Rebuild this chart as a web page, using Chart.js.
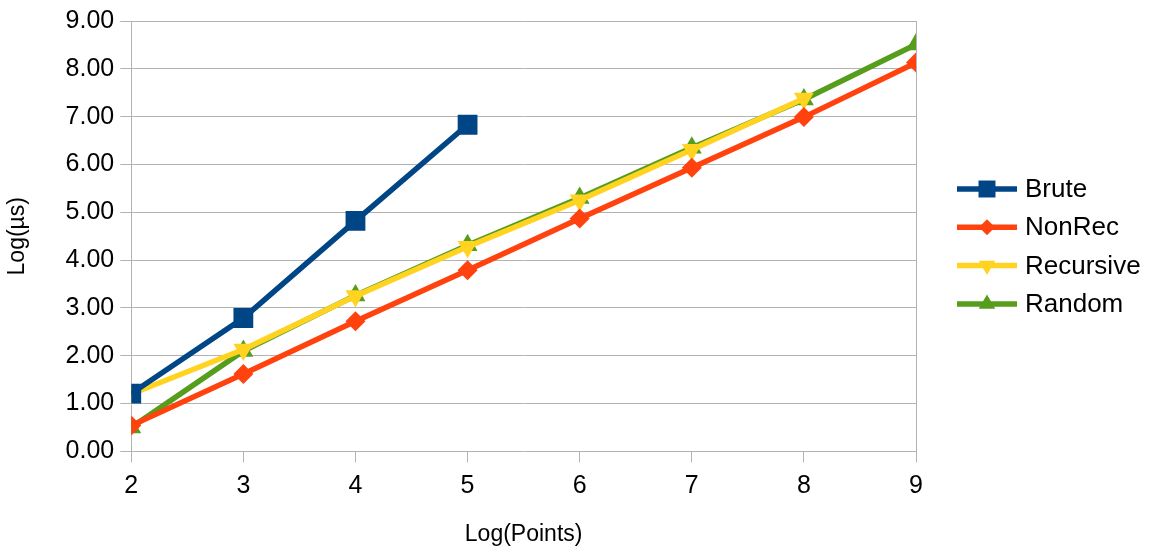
<!DOCTYPE html>
<html>
<head>
<meta charset="utf-8">
<script src="https://cdn.jsdelivr.net/npm/chart.js@4"></script>
<style>
  html, body { margin: 0; padding: 0; background: #fff; }
  #wrap { width: 1154px; height: 548px; }
</style>
</head>
<body>
<div id="wrap"><canvas id="chart" width="1154" height="548"></canvas></div>
<script>
// x positions: Log(Points)
const xValues = [2, 3, 4, 5, 6, 7, 8, 9];

// series, Log(µs)
const brute     = [1.21, 2.79, 4.82, 6.83];
const nonRec    = [0.54, 1.62, 2.72, 3.79, 4.87, 5.93, 6.99, 8.13];
const recursive = [1.20, 2.13, 3.25, 4.28, 5.25, 6.31, 7.38];
const random    = [0.50, 2.10, 3.26, 4.31, 5.30, 6.35, 7.36, 8.51];

const seriesNames = ['Brute', 'NonRec', 'Recursive', 'Random'];
const colors = ['#004586', '#ff420e', '#ffd320', '#579d1c'];
const pointStyles = ['rect', 'rectRot', 'triangle', 'triangle'];
const pointRotations = [0, 0, 180, 0];
const pointRadii = [14, 10, 11.5, 11.5];
const legendRadii = [12, 8, 9.5, 9.5];

const FONT = 'Liberation Sans';

function toPoints(vals) {
    return vals.map((v, i) => ({ x: xValues[i], y: v }));
}

const allSeries = [brute, nonRec, recursive, random];

const datasets = allSeries.map((vals, i) => ({
    label: seriesNames[i],
    data: toPoints(vals),
    borderColor: colors[i],
    backgroundColor: colors[i],
    borderWidth: 5.5,
    pointStyle: pointStyles[i],
    rotation: pointRotations[i],
    pointRadius: pointRadii[i],
    pointBorderWidth: 0,
    pointBackgroundColor: colors[i],
    tension: 0
}));

// legend on the right: line + marker + name
const sideLegend = {
    id: 'sideLegend',
    afterDraw(chart) {
        const ctx = chart.ctx;
        const area = chart.chartArea;
        const x0 = area.right + 41;
        const y0 = area.top + 168;
        seriesNames.forEach((name, i) => {
            const y = y0 + i * 38.3;
            ctx.save();
            ctx.strokeStyle = colors[i];
            ctx.lineWidth = 5.5;
            ctx.beginPath();
            ctx.moveTo(x0, y);
            ctx.lineTo(x0 + 60, y);
            ctx.stroke();
            ctx.fillStyle = colors[i];
            Chart.helpers.drawPoint(ctx, {
                pointStyle: pointStyles[i],
                rotation: pointRotations[i],
                radius: legendRadii[i],
                borderWidth: 0
            }, x0 + 30, y);
            ctx.fillStyle = '#000';
            ctx.font = '26px "' + FONT + '"';
            ctx.textBaseline = 'middle';
            ctx.textAlign = 'left';
            ctx.fillText(name, x0 + 68, y + 1);
            ctx.restore();
        });
    }
};

const gridGray = '#b3b3b3';

new Chart(document.getElementById('chart').getContext('2d'), {
    type: 'line',
    data: { datasets: datasets },
    options: {
        responsive: false,
        animation: false,
        layout: { padding: { top: 3, right: 238, left: 0, bottom: 0 } },
        plugins: {
            legend: { display: false },
            tooltip: { enabled: false }
        },
        scales: {
            x: {
                type: 'linear',
                min: 2,
                max: 9,
                ticks: {
                    stepSize: 1,
                    color: '#000',
                    padding: 9,
                    font: { family: FONT, size: 25 }
                },
                grid: {
                    color: c => (c.tick && (c.tick.value === 2 || c.tick.value === 9)) ? gridGray : 'rgba(0,0,0,0)',
                    tickColor: gridGray,
                    tickLength: 11,
                    lineWidth: 1
                },
                border: { display: false },
                title: {
                    display: true,
                    text: 'Log(Points)',
                    color: '#000',
                    padding: { top: 10, bottom: 0 },
                    font: { family: FONT, size: 23 }
                }
            },
            y: {
                min: 0,
                max: 9,
                ticks: {
                    stepSize: 1,
                    color: '#000',
                    padding: 6,
                    font: { family: FONT, size: 25 },
                    callback: v => Number(v).toFixed(2)
                },
                grid: {
                    color: gridGray,
                    tickColor: gridGray,
                    tickLength: 11,
                    lineWidth: 1
                },
                border: { display: false },
                title: {
                    display: true,
                    text: 'Log(µs)',
                    color: '#000',
                    padding: { top: 4, bottom: 28 },
                    font: { family: FONT, size: 23 }
                }
            }
        }
    },
    plugins: [sideLegend]
});
</script>
</body>
</html>
